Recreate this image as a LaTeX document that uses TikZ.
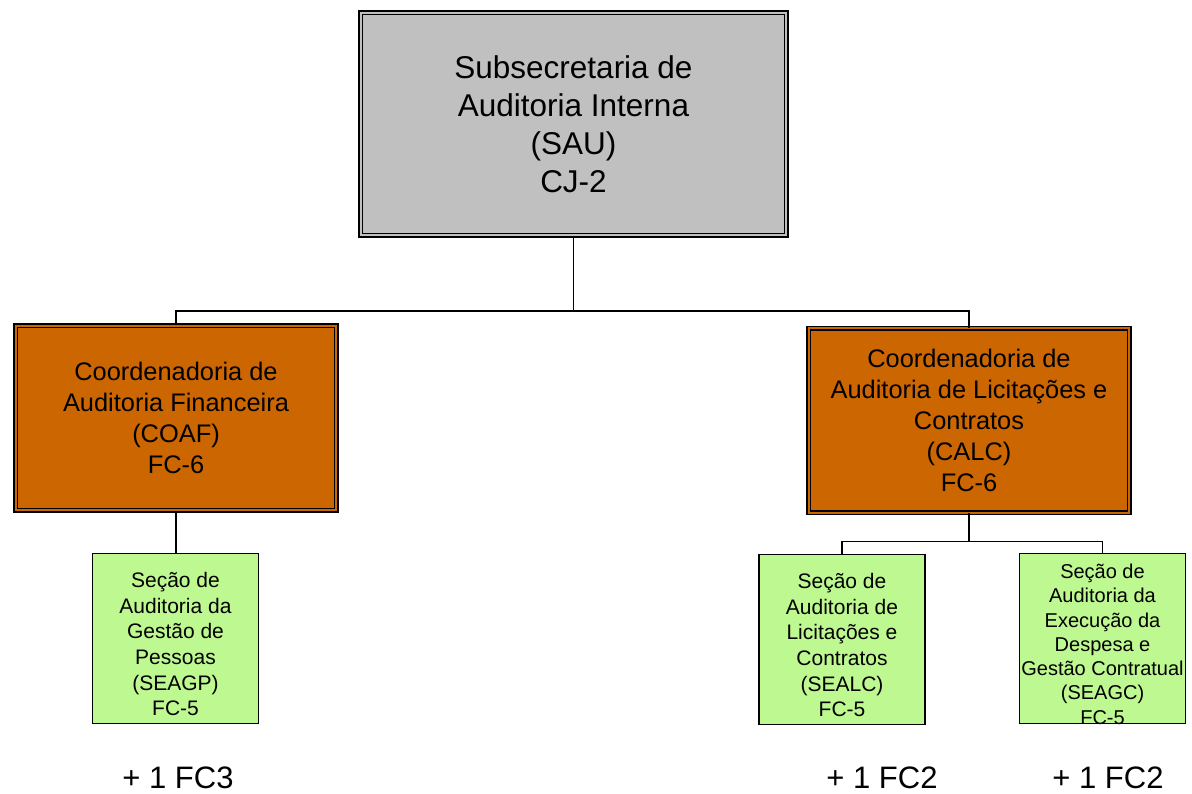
\documentclass[tikz,border=0pt]{standalone}
\usepackage{fontspec}
\setmainfont{Liberation Sans}
\usepackage{tikz}

\definecolor{saugray}{RGB}{192,192,192}
\definecolor{coordorange}{RGB}{204,102,0}
\definecolor{secgreen}{RGB}{190,248,145}

% green boxes print their text a little below the middle
\newcommand{\lowtext}[1]{\raisebox{-8pt}[\height][\depth]{\begin{tabular}{@{}c@{}}#1\end{tabular}}}

\tikzset{
	subbox/.style={draw=black,line width=1.6pt,double=saugray,double distance=2pt,fill=saugray,
		minimum width=425.8pt,minimum height=222.8pt,inner sep=0pt,align=center,
		font=\fontsize{31.5}{38}\selectfont},
	coordbox/.style={draw=black,line width=1.6pt,double=coordorange,double distance=2pt,fill=coordorange,
		minimum width=320.8pt,minimum height=184.3pt,inner sep=0pt,align=center,
		font=\fontsize{25.4}{31}\selectfont},
	secbox/.style={draw=black,line width=1.6pt,fill=secgreen,
		minimum width=166pt,minimum height=170pt,inner sep=0pt,
		font=\fontsize{21}{25.7}\selectfont},
	fclabel/.style={font=\fontsize{31}{36}\selectfont,inner sep=0pt},
	link/.style={line width=1.8pt,color=black}
}

\begin{document}
\begin{tikzpicture}[x=1pt,y=-1pt]
	\useasboundingbox (0,0) rectangle (1192,793);
	\node[subbox] (sau) at (573.5,124) {Subsecretaria de\\Auditoria Interna\\(SAU)\\CJ-2};
	\node[coordbox] (coaf) at (176,418) {Coordenadoria de\\Auditoria Financeira\\(COAF)\\FC-6};
	\node[coordbox] (calc) at (969,420.5) {Coordenadoria de\\Auditoria de Licitações e\\Contratos\\(CALC)\\FC-6};
	\node[secbox] (seagp) at (175.5,638.5) {\lowtext{Seção de\\Auditoria da\\Gestão de\\Pessoas\\(SEAGP)\\FC-5}};
	\node[secbox] (sealc) at (842,639.5) {\lowtext{Seção de\\Auditoria de\\Licitações e\\Contratos\\(SEALC)\\FC-5}};
	\node[secbox,font=\fontsize{20}{24.3}\selectfont] (seagc) at (1102.5,638.5) {\lowtext{Seção de\\Auditoria da\\Execução da\\Despesa e\\Gestão Contratual\\(SEAGC)\\FC-5}};
	% connectors
	\draw[link] (sau.south) -- ++(0,75) coordinate (bustop);
	\draw[link] (coaf.north) |- (bustop) -| (calc.north);
	\draw[link] (coaf.south) -- (coaf.south |- seagp.north);
	\draw[link] (calc.south) -- ++(0,28) coordinate (buscalc);
	\draw[link] (sealc.north) |- (buscalc) -| (seagc.north);
	\node[fclabel] (fcseagp) at (178,778) {+ 1 FC3};
	\node[fclabel] (fcsealc) at (882,778) {+ 1 FC2};
	\node[fclabel] (fcseagc) at (1108,778) {+ 1 FC2};
\end{tikzpicture}
\end{document}
